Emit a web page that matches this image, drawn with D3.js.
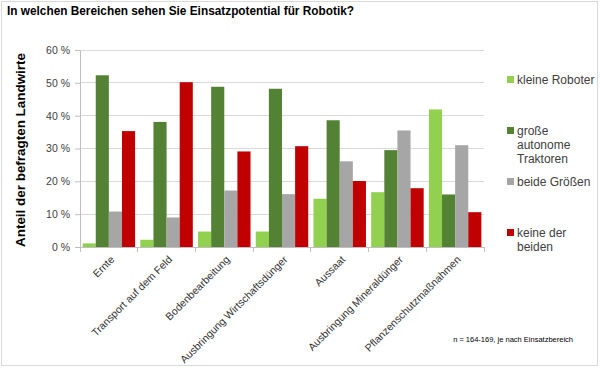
<!DOCTYPE html>
<html>
<head>
<meta charset="utf-8">
<script src="https://cdn.jsdelivr.net/npm/d3@7.9.0/dist/d3.min.js"></script>
<style>
  body { margin: 0; background: #fff; }
  svg { font-family: "Liberation Sans", Arial, sans-serif; }
</style>
</head>
<body>
<svg id="chart" width="600" height="368"></svg>
<script>
// ----- data -----
const categories = ["Ernte", "Transport auf dem Feld", "Bodenbearbeitung",
  "Ausbringung Wirtschaftsdünger", "Aussaat", "Ausbringung Mineraldünger",
  "Pflanzenschutzmaßnahmen"];
const seriesNames = ["kleine Roboter", "große autonome Traktoren", "beide Größen", "keine der beiden"];
const kleineRoboter = [1.1, 2.2, 4.7, 4.7, 14.7, 16.7, 41.9];
const grosseTraktoren = [52.3, 38.1, 48.8, 48.2, 38.6, 29.5, 16.0];
const beideGroessen = [10.8, 9.0, 17.2, 16.1, 26.1, 35.5, 31.0];
const keineDerBeiden = [35.3, 50.2, 29.1, 30.7, 20.1, 17.9, 10.6];
const yTicks = [0, 10, 20, 30, 40, 50, 60];

const seriesValues = [kleineRoboter, grosseTraktoren, beideGroessen, keineDerBeiden];
const colors = ["#92d050", "#548235", "#a6a6a6", "#c00000"];

const svg = d3.select("#chart");

// frame
svg.append("rect").attr("x", 1.5).attr("y", 1.5).attr("width", 596).attr("height", 364)
  .attr("fill", "#fff").attr("stroke", "#d9d9d9");

// title
svg.append("text").attr("x", 7).attr("y", 15)
  .attr("font-size", 12.5).attr("font-weight", "bold").attr("fill", "#000")
  .attr("textLength", 347).attr("lengthAdjust", "spacingAndGlyphs")
  .text("In welchen Bereichen sehen Sie Einsatzpotential für Robotik?");

const plot = { left: 80, right: 484, top: 50, bottom: 247 };

const x0 = d3.scaleBand().domain(categories).range([plot.left, plot.right]).paddingInner(0).paddingOuter(0);
const x1 = d3.scaleBand().domain(d3.range(seriesValues.length)).range([0, x0.bandwidth()]).paddingInner(0).paddingOuter(0.2);
const y = d3.scaleLinear().domain([0, 60]).range([plot.bottom, plot.top]);

// gridlines
svg.append("g").selectAll("line").data(yTicks.filter(t => t > 0)).join("line")
  .attr("x1", plot.left).attr("x2", plot.right)
  .attr("y1", d => y(d)).attr("y2", d => y(d))
  .attr("stroke", "#d9d9d9").attr("stroke-width", 1).attr("shape-rendering", "crispEdges");

// y axis labels + left ticks
const yAxis = svg.append("g").attr("transform", `translate(${plot.left},0)`)
  .call(d3.axisLeft(y).tickValues(yTicks).tickSize(5).tickSizeOuter(0).tickPadding(5).tickFormat(d => d + " %"));
yAxis.select(".domain").attr("stroke", "#bfbfbf");
yAxis.selectAll("line").attr("stroke", "#bfbfbf");
yAxis.selectAll("text").attr("font-size", 10.5).attr("fill", "#404040")
  .attr("font-family", "Liberation Sans, Arial, sans-serif");

// bars
const groups = svg.append("g").selectAll("g").data(categories).join("g")
  .attr("transform", d => `translate(${x0(d)},0)`);
groups.selectAll("rect").data((c, i) => seriesValues.map((vals, s) => ({ s, v: vals[i] }))).join("rect")
  .attr("x", d => x1(d.s)).attr("width", x1.bandwidth())
  .attr("y", d => y(d.v)).attr("height", d => y(0) - y(d.v))
  .attr("fill", d => colors[d.s]);

// x axis
const xAxis = svg.append("g").attr("transform", `translate(0,${plot.bottom})`);
xAxis.append("line").attr("x1", plot.left).attr("x2", plot.right).attr("y1", 0.5).attr("y2", 0.5)
  .attr("stroke", "#bfbfbf");
xAxis.selectAll("line.tick").data(categories.concat(["end"])).join("line").attr("class", "tick")
  .attr("x1", (d, i) => i < categories.length ? x0(d) : plot.right)
  .attr("x2", (d, i) => i < categories.length ? x0(d) : plot.right)
  .attr("y1", 0).attr("y2", 5).attr("stroke", "#bfbfbf").attr("shape-rendering", "crispEdges");
xAxis.selectAll("text").data(categories).join("text")
  .attr("transform", d => `translate(${x0(d) + x0.bandwidth() / 2 + 1},8) rotate(-45)`)
  .attr("text-anchor", "end").attr("dy", "0.7em")
  .attr("font-size", 10.5).attr("fill", "#333").text(d => d);

// y axis title
svg.append("text").attr("transform", `translate(25,150) rotate(-90)`)
  .attr("text-anchor", "middle").attr("font-size", 13).attr("font-weight", "bold").attr("fill", "#000")
  .attr("textLength", 194).attr("lengthAdjust", "spacingAndGlyphs")
  .text("Anteil der befragten Landwirte");

// legend
const legendItems = [
  { lines: ["kleine Roboter"], y: 80 },
  { lines: ["große", "autonome", "Traktoren"], y: 131 },
  { lines: ["beide Größen"], y: 182 },
  { lines: ["keine der", "beiden"], y: 233 }
];
const legend = svg.append("g");
legendItems.forEach((it, i) => {
  legend.append("rect").attr("x", 507).attr("y", it.y - 4).attr("width", 7).attr("height", 7).attr("fill", colors[i]);
  const t = legend.append("text").attr("x", 517).attr("y", it.y)
    .attr("font-size", 12).attr("fill", "#404040");
  it.lines.forEach((ln, j) => t.append("tspan").attr("x", 517).attr("dy", j === 0 ? "0.35em" : 13.7).text(ln));
});

// footnote
svg.append("text").attr("x", 573).attr("y", 342).attr("text-anchor", "end")
  .attr("font-size", 7.5).attr("fill", "#000")
  .text("n = 164-169, je nach Einsatzbereich");
</script>
</body>
</html>
